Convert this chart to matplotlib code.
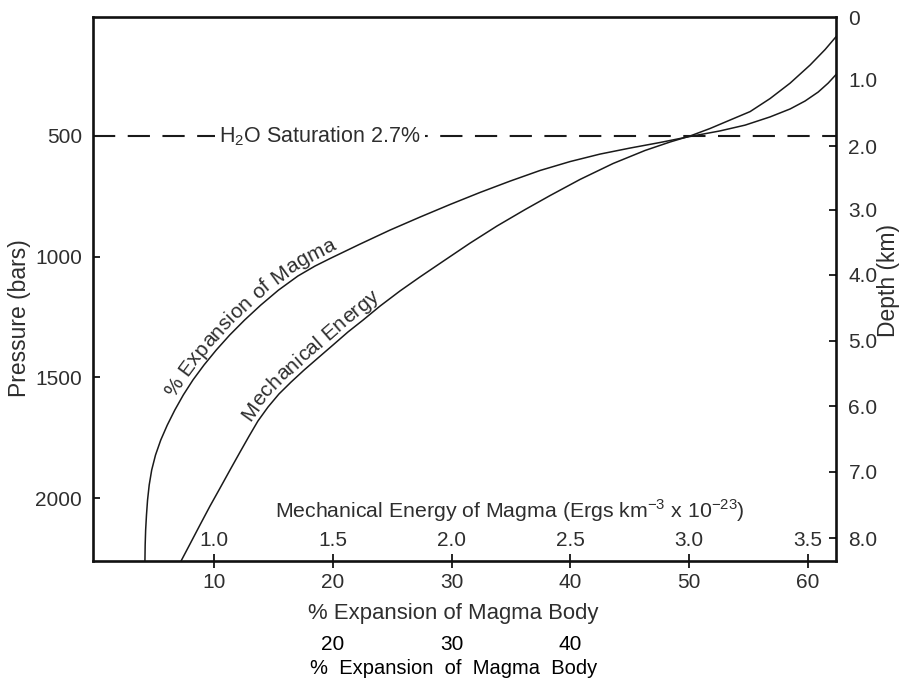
import numpy as np
import matplotlib
matplotlib.use("Agg")
import matplotlib.pyplot as plt
import matplotlib.transforms as mtransforms
from matplotlib.font_manager import FontProperties, findfont, get_font

plt.rcParams['font.family'] = ['Liberation Sans', 'DejaVu Sans']
plt.rcParams['mathtext.fontset'] = 'custom'
plt.rcParams['mathtext.rm'] = 'Liberation Sans'
plt.rcParams['lines.scale_dashes'] = False

# Datos
# Curva "% Expansion of Magma": % expansión vs presión (bares)
exp_x = [4.19, 4.21, 4.25, 4.32, 4.41, 4.55, 4.76, 5.08, 5.52, 6.07, 6.70, 7.42, 8.23,
         9.16, 10.19, 11.32, 12.57, 13.93, 15.42, 17.07, 18.50, 19.76, 22.29, 24.81,
         27.34, 29.86, 32.39, 34.92, 37.44, 39.97, 42.49, 45.02, 47.54, 50.07, 52.59,
         54.70, 56.80, 58.49, 59.75, 60.85, 61.69, 62.4]
exp_p = [2262, 2195, 2133, 2071, 2009, 1946, 1884, 1822, 1760, 1698, 1636, 1573, 1511,
         1449, 1387, 1325, 1263, 1201, 1139, 1080, 1039, 1008, 948, 890,
         836, 784, 734, 687, 643, 606, 575, 550, 527, 502, 479,
         455, 421, 388, 355, 318, 281, 243]

# Curva "Mechanical Energy"
mec_x = [7.22, 7.98, 8.82, 9.66, 10.51, 11.35, 12.19, 12.95, 13.70, 14.55, 15.47, 16.48,
         17.58, 18.75, 20.02, 21.28, 22.54, 23.97, 25.66, 27.34, 29.44, 31.55, 33.82,
         36.18, 38.28, 40.81, 43.59, 46.28, 48.38, 50.07, 51.75, 53.43, 55.12, 56.80,
         58.49, 60.17, 61.43, 62.4]
mec_p = [2262, 2191, 2112, 2034, 1959, 1884, 1810, 1744, 1681, 1623, 1569, 1520,
         1470, 1420, 1366, 1312, 1263, 1205, 1142, 1084, 1014, 944, 873,
         805, 747, 680, 614, 560, 525, 500, 469, 434, 399, 345,
         281, 206, 142, 86]

presion_ticks = [500, 1000, 1500, 2000]
expansion_ticks = [10, 20, 30, 40, 50, 60]
energia_labels = ["1.0", "1.5", "2.0", "2.5", "3.0", "3.5"]
profundidad_labels = ["0", "1.0", "2.0", "3.0", "4.0", "5.0", "6.0", "7.0", "8.0"]
profundidad_pos = [-10, 252, 529, 794, 1067, 1341, 1615, 1888, 2166]
saturacion_p = 500
extra_ticks = [20, 30, 40]

GRIS = '#2e2e2e'
W, H = 899, 678

fig = plt.figure(figsize=(W / 100, H / 100), dpi=100)
ax = fig.add_axes([93 / W, 1 - 561 / H, (836 - 93) / W, (561 - 17) / H])
ax.set_xlim(-0.18, 62.35)
ax.set_ylim(2261, 7)

for s in ax.spines.values():
    s.set_linewidth(1.9)
    s.set_color('#111111')

ax.plot(exp_x, exp_p, color='#1a1a1a', lw=1.1, solid_joinstyle='round')
ax.plot(mec_x, mec_p, color='#1a1a1a', lw=1.1, solid_joinstyle='round')

# línea de saturación
ax.axhline(saturacion_p, color='#1a1a1a', lw=1.5, dashes=(16, 9))
ax.text(18.9, saturacion_p, r"H$_2$O Saturation 2.7%", ha='center', va='center',
        fontsize=15.5, color=GRIS,
        bbox=dict(facecolor='white', edgecolor='none', pad=3))

# eje izquierdo
ax.set_yticks(presion_ticks)
ax.set_yticklabels([str(v) for v in presion_ticks])
ax.tick_params(axis='y', direction='in', length=5, width=1.2, pad=8,
               labelsize=15, labelcolor=GRIS)

# eje inferior
ax.set_xticks(expansion_ticks)
ax.set_xticklabels([str(v) for v in expansion_ticks])
ax.tick_params(axis='x', direction='inout', length=10, width=1.2, pad=4,
               labelsize=15, labelcolor=GRIS)

# etiquetas de energía mecánica, dentro del gráfico
tr = mtransforms.blended_transform_factory(ax.transData, fig.transFigure)
for xv, lab in zip(expansion_ticks, energia_labels):
    ax.text(xv, 1 - 540 / H, lab, transform=tr, ha='center', va='center',
            fontsize=15, color=GRIS)
fig.text(510 / W, 1 - 511 / H, r"Mechanical Energy of Magma (Ergs km$^{-3}$ x 10$^{-23}$)",
         ha='center', va='center', fontsize=15.3, color=GRIS)

# eje derecho (profundidad)
ax2 = ax.twinx()
ax2.set_ylim(ax.get_ylim())
ax2.set_yticks(profundidad_pos)
ax2.set_yticklabels(profundidad_labels)
ax2.tick_params(axis='y', direction='in', length=5, width=1.2, pad=9,
                labelsize=15, labelcolor=GRIS)
for t in ax2.yaxis.get_major_ticks()[:2]:
    t.tick2line.set_visible(False)
for s in ax2.spines.values():
    s.set_visible(False)

# títulos de ejes
fig.text(20 / W, 1 - 318 / H, "Pressure (bars)", rotation=90, ha='center', va='center',
         fontsize=16.5, color=GRIS)
fig.text(889 / W, 1 - 280 / H, "Depth (km)", rotation=90, ha='center', va='center',
         fontsize=16.5, color=GRIS)
fig.text(453 / W, 1 - 613 / H, "% Expansion of Magma Body", ha='center', va='center',
         fontsize=15.9, color=GRIS)

# texto repetido debajo de la figura
for xv in extra_ticks:
    ax.text(xv, 1 - 645 / H, str(xv), transform=tr, ha='center', va='center',
            fontsize=15, color='black')
fig.text(454 / W, 1 - 668 / H, "%  Expansion  of  Magma  Body", ha='center', va='center',
         fontsize=14.5, color='black')


# texto siguiendo una curva
def texto_en_curva(xs, ps, texto, p_inicio, sep, size=15):
    pts = ax.transData.transform(np.column_stack([xs, ps]))
    seg = np.hypot(np.diff(pts[:, 0]), np.diff(pts[:, 1]))
    s = np.concatenate([[0], np.cumsum(seg)])
    s0 = np.interp(p_inicio, np.array(ps)[::-1], s[::-1])
    prop = FontProperties(family='Liberation Sans', size=size)
    font = get_font(findfont(prop))
    font.set_size(size, 100)
    pos = 0.0
    for ch in texto:
        ancho = font.load_char(ord(ch)).linearHoriAdvance / 65536
        sc = s0 + pos + ancho / 2
        pos += ancho
        if ch == ' ':
            continue
        k = int(np.clip(np.searchsorted(s, sc), 1, len(s) - 1))
        d = pts[k] - pts[k - 1]
        d = d / np.hypot(*d)
        x = np.interp(sc, s, pts[:, 0])
        y = np.interp(sc, s, pts[:, 1])
        ang = np.degrees(np.arctan2(d[1], d[0]))
        nx, ny = -d[1], d[0]
        ax.text(x + nx * sep, y + ny * sep, ch, rotation=ang, rotation_mode='anchor',
                ha='center', va='baseline', fontproperties=prop, color=GRIS,
                transform=mtransforms.IdentityTransform())


texto_en_curva(exp_x, exp_p, "% Expansion of Magma", 1600, 6)
texto_en_curva(mec_x, mec_p, "Mechanical Energy", 1700, 6)

fig.savefig("out.png", dpi=100)
